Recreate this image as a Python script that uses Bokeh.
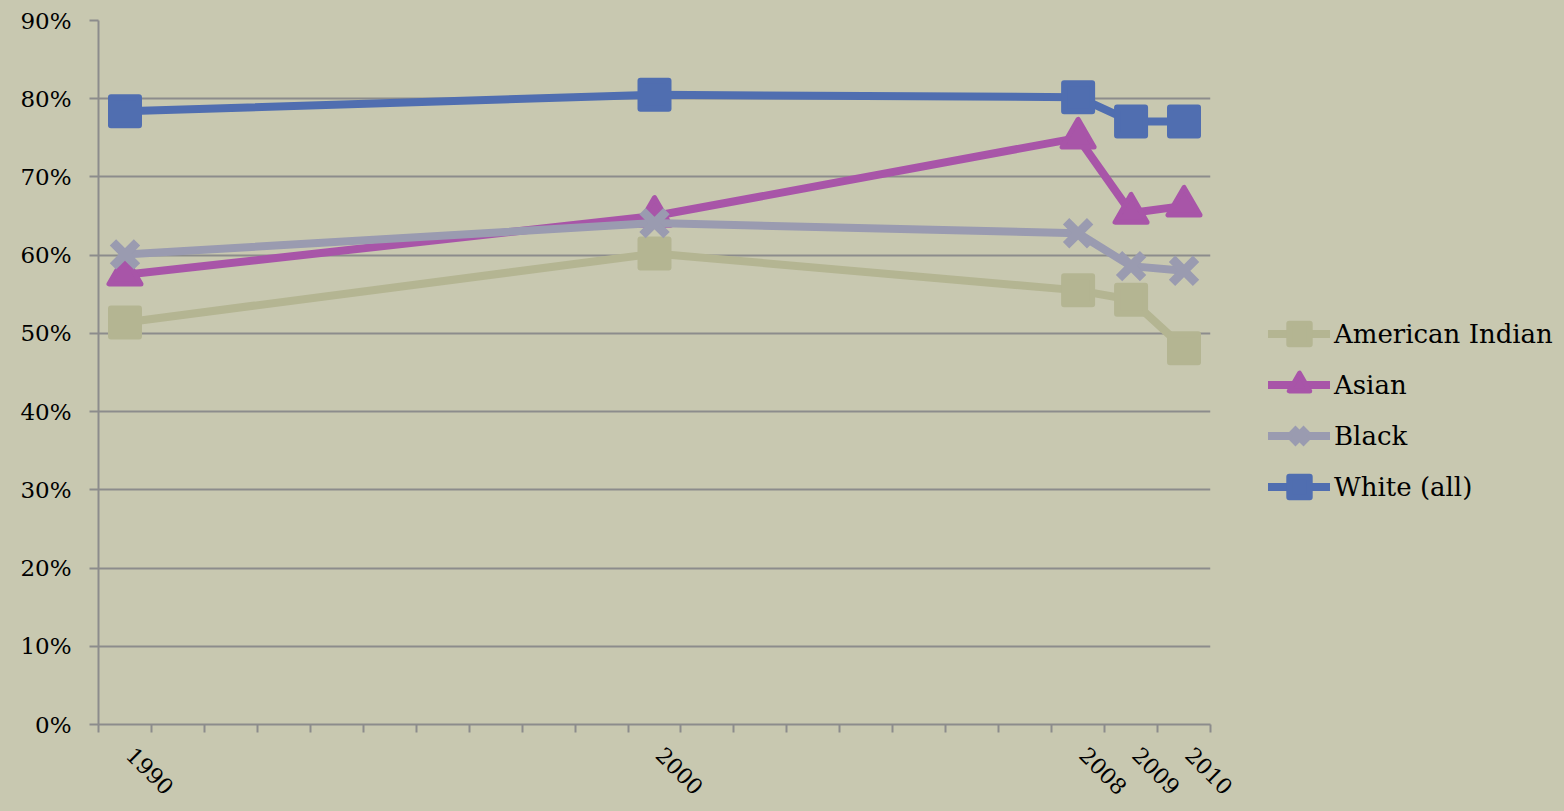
import math
from bokeh.plotting import figure
from bokeh.layouts import row
from bokeh.models import (ColumnDataSource, FixedTicker, NumeralTickFormatter,
                          Legend, LegendItem, Range1d)
from bokeh.embed import file_html
from bokeh.resources import INLINE

years = [1990, 2000, 2008, 2009, 2010]
year_labels = ["1990", "2000", "2008", "2009", "2010"]
american_indian = [0.514, 0.602, 0.555, 0.543, 0.481]
asian = [0.575, 0.650, 0.750, 0.654, 0.663]
black = [0.601, 0.641, 0.628, 0.586, 0.580]
white_all = [0.784, 0.805, 0.802, 0.771, 0.771]

BG = "#c8c8b0"
GRID = "#8c8c8c"
FONT = "DejaVu Serif"

p = figure(width=1241, height=811, output_backend="svg", toolbar_location=None,
           x_range=Range1d(1989.5, 2010.5), y_range=Range1d(0, 0.9),
           min_border_left=98, min_border_right=31, min_border_top=20,
           min_border_bottom=87)
p.background_fill_color = BG
p.border_fill_color = BG
p.outline_line_color = BG
p.outline_line_width = 2

# axes
p.xaxis.ticker = FixedTicker(ticks=years,
                             minor_ticks=[y - 0.5 for y in range(1990, 2012)])
p.xaxis.major_label_overrides = {y: "\u00a0" + s for y, s in zip(years, year_labels)}
p.xaxis.major_tick_out = 0
p.xaxis.major_tick_in = 0
p.xaxis.minor_tick_out = 8
p.xaxis.minor_tick_in = 0
p.xaxis.minor_tick_line_color = GRID
p.xaxis.minor_tick_line_width = 2
p.xaxis.axis_line_color = GRID
p.xaxis.axis_line_width = 2
p.xaxis.major_label_orientation = -math.pi / 4
p.xaxis.major_label_text_font = FONT
p.xaxis.major_label_text_font_size = "22px"
p.xaxis.major_label_text_color = "black"
p.xaxis.major_label_standoff = 14

p.yaxis.ticker = FixedTicker(ticks=[i / 10 for i in range(10)], minor_ticks=[])
p.yaxis.formatter = NumeralTickFormatter(format="0%")
p.yaxis.major_tick_out = 9
p.yaxis.major_tick_in = 0
p.yaxis.major_tick_line_color = GRID
p.yaxis.major_tick_line_width = 2
p.yaxis.axis_line_color = GRID
p.yaxis.axis_line_width = 2
p.yaxis.major_label_text_font = FONT
p.yaxis.major_label_text_font_size = "23px"
p.yaxis.major_label_text_color = "black"
p.yaxis.major_label_standoff = 18

p.xgrid.grid_line_color = None
p.ygrid.ticker = FixedTicker(ticks=[i / 10 for i in range(1, 10)])
p.ygrid.grid_line_color = GRID
p.ygrid.grid_line_width = 2

# legend holder figure
q = figure(width=323, height=811, output_backend="svg", toolbar_location=None,
           x_range=Range1d(0, 1), y_range=Range1d(0, 1), min_border=0)
q.axis.visible = False
q.grid.visible = False
q.background_fill_color = BG
q.border_fill_color = BG
q.outline_line_color = BG
q.outline_line_width = 3

series = [
    ("American Indian", american_indian, "#b4b592", "square"),
    ("Asian", asian, "#a855a8", "triangle"),
    ("Black", black, "#9a9bb0", "x"),
    ("White (all)", white_all, "#506eb0", "square"),
]


def add_series(fig, xs, ys, color, marker):
    src = ColumnDataSource(dict(x=xs, y=ys))
    ln = fig.line("x", "y", source=src, line_color=color, line_width=8,
                  line_cap="round")
    if marker == "square":
        mk = fig.scatter("x", "y", source=src, marker="square", size=28,
                         fill_color=color, line_color=color, line_width=6,
                         line_join="round")
    elif marker == "triangle":
        mk = fig.scatter("x", "y", source=src, marker="triangle", size=32,
                         fill_color=color, line_color=color, line_width=5,
                         line_join="round")
    else:
        mk = fig.scatter("x", "y", source=src, marker="x", size=34,
                         line_color=color, line_width=9)
    return ln, mk


items = []
for name, vals, color, marker in series:
    add_series(p, years, vals, color, marker)
    # off-screen copies in the legend panel, used only for the legend glyphs
    ln, mk = add_series(q, [-10, -9], [-10, -10], color, marker)
    items.append(LegendItem(label=name, renderers=[ln, mk]))

legend = Legend(items=items, location=(27, 212), orientation="vertical",
                background_fill_alpha=0, border_line_color=None,
                label_text_font=FONT, label_text_font_size="26px",
                label_text_color="black", glyph_width=62, glyph_height=51,
                spacing=0, label_standoff=4, padding=0, margin=0)
q.add_layout(legend, "center")

layout = row(p, q, spacing=0, styles={"background-color": BG})
html = file_html(layout, INLINE)
html = html.replace("<body>", '<body style="background:#c8c8b0">', 1)
open("out.html", "w").write(html)
